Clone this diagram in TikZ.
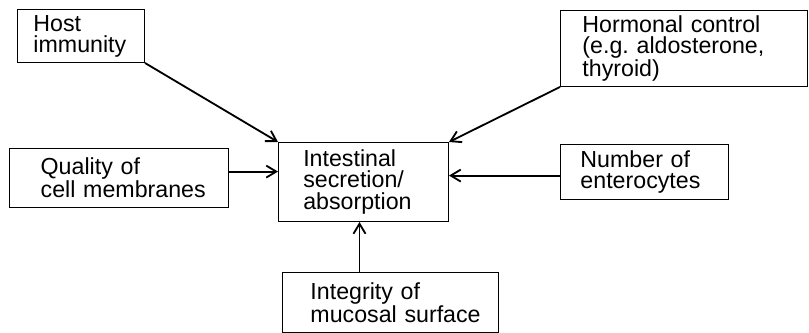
\documentclass[tikz,border=0pt]{standalone}
\usepackage{fontspec}
\setmainfont{Liberation Sans}
\usetikzlibrary{arrows.meta}
\newcommand\boxfont{\fontsize{16.5}{15}\selectfont\hyphenpenalty=10000 \exhyphenpenalty=10000\relax}

\begin{document}
\begin{tikzpicture}[
  factor/.style={draw, line width=0.7pt, anchor=north west, align=left, inner xsep=0.5cm, inner ysep=0pt, font=\boxfont},
  link/.style={line width=1.3pt, -{Straight Barb[length=2.5mm,width=3mm]}}
]
\useasboundingbox (0,0) rectangle (20.225,-8.325);
\node[factor, text width=2.375cm, inner xsep=0.4cm, minimum height=1.325cm] (host) at (0.425,-0.225) {Host\\immunity};
\node[factor, text width=5.075cm, inner xsep=0.55cm, minimum height=1.9cm] (hormone) at (14,-0.25) {Hormonal~control\\(e.g.~aldosterone,\\thyroid)};
\node[factor, text width=3.915cm, inner xsep=0.78cm, minimum height=1.475cm] (quality) at (0.225,-3.7) {Quality~of\\cell~membranes};
\node[factor, text width=3.01cm, inner xsep=0.62cm, minimum height=1.975cm] (central) at (6.95,-3.55) {Intestinal\\secretion/\\absorption};
\node[factor, text width=3.2cm, inner xsep=0.5cm, minimum height=1.375cm] (number) at (14,-3.6) {Number~of\\enterocytes};
\node[factor, text width=4.0cm, inner xsep=0.7cm, minimum height=1.5cm] (integrity) at (7.05,-6.8) {Integrity~of\\mucosal~surface};
% arrows into the centre box
\draw[link] (host.south east) -- (central.north west);
\draw[link] (hormone.south west) -- (central.north east);
\draw[link] ([yshift=0.16cm]quality.east) -- ([yshift=0.16cm]quality.east -| central.west);
\draw[link] ([yshift=-0.09cm]number.west) -- ([yshift=-0.09cm]number.west -| central.east);
\draw[link] ([xshift=-0.1cm]integrity.north -| central.south) -- ([xshift=-0.1cm]central.south);
\end{tikzpicture}
\end{document}
